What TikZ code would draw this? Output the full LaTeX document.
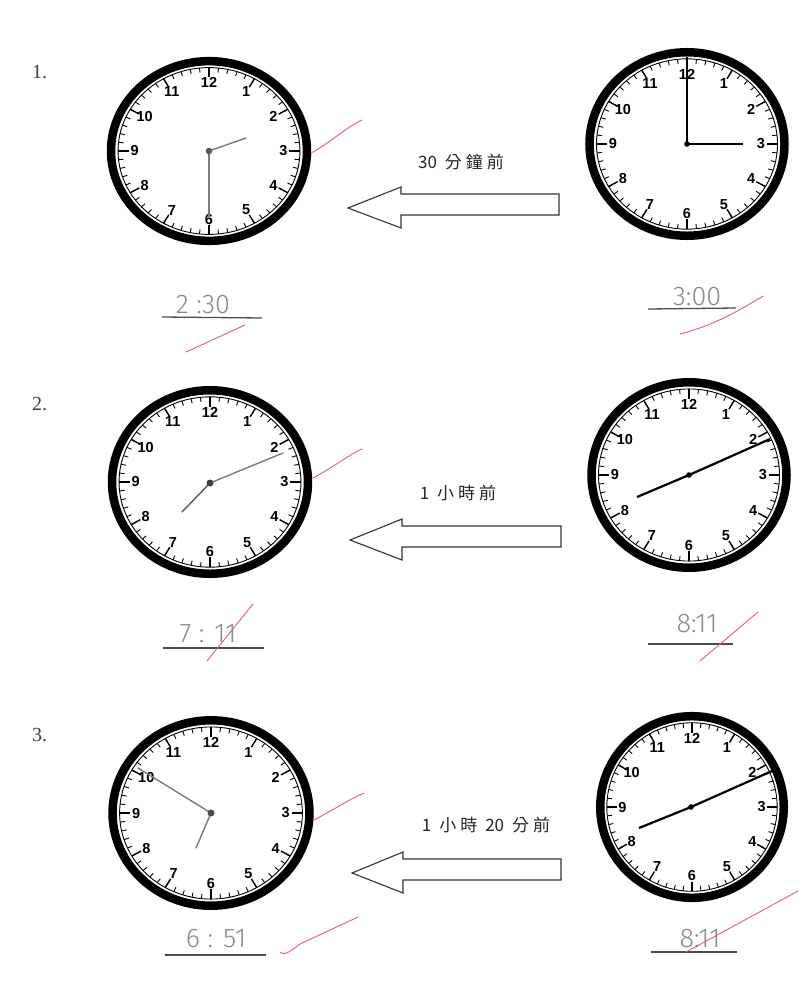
\documentclass[tikz,border=0pt]{standalone}
\usepackage{fontspec}
\setmainfont{Liberation Serif}
\newfontfamily\numfont{Liberation Sans}
\newfontfamily\cjk{Noto Sans CJK TC}
\newfontfamily\hand{Fira Sans Light}
\definecolor{handgray}{HTML}{7A7A7A}
\definecolor{handtext}{HTML}{8A8A8A}
\definecolor{redink}{HTML}{E0607A}
\tikzset{
 ring/.style={line width=8.5pt, draw=black},
 rim/.style={line width=0.9pt, draw=black},
 minortick/.style={line width=0.9pt},
 majortick/.style={line width=1.4pt},
 num/.style={font=\numfont\bfseries\fontsize{14.5}{14.5}\selectfont, inner sep=0pt},
 ghand/.style={line width=1.4pt, draw=handgray, line cap=round},
 bhand/.style={line width=2.2pt, draw=black},
 bigarrow/.style={line width=1.1pt, draw=black!80, fill=white, line join=miter},
 cjklabel/.style={font=\cjk\fontsize{17}{17}\selectfont, text=black!85, inner sep=0pt},
 answer/.style={font=\hand\fontsize{27}{27}\selectfont, text=handtext, inner sep=0pt},
 uline/.style={line width=1.3pt, draw=black!70},
 redmark/.style={line width=0.9pt, draw=redink, line cap=round},
 qnum/.style={font=\fontsize{20}{20}\selectfont, text=black!75, anchor=west, inner sep=0pt}
}
\newcommand{\clockface}[4]{%
 \begin{scope}[shift={(#1,#2)},xscale=#3/102,yscale=#4/102]
  \draw[ring] (0,0) circle (97.5);
  \draw[rim] (0,0) circle (90.5);
  \foreach \k in {0,...,59}{\draw[minortick] (\k*6:90.5) -- (\k*6:85.5);}
  \foreach \k in {0,...,11}{\draw[majortick] (\k*30:90.5) -- (\k*30:80);}
  \foreach \n in {1,...,12}{\node[num] at (\n*30-90:74) {\n};}
 \end{scope}}
\begin{document}
\begin{tikzpicture}[x=1pt,y=-1pt]
\useasboundingbox (0,0) rectangle (804,985);
\fill[white] (0,0) rectangle (804,985);

% question numbers
\node[qnum] (q1) at (32,72) {1.};
\node[qnum] (q2) at (32,404) {2.};
\node[qnum] (q3) at (32,735) {3.};

% clock faces
\clockface{209}{151}{102.5}{94}
\clockface{687}{144}{102}{96}
\clockface{210}{482}{102.5}{96}
\clockface{689}{475}{102}{97}
\clockface{211}{813}{103}{97}
\clockface{692}{807}{96}{95}

% hands
\draw[ghand] (209,151) -- (209,217);
\draw[ghand] (209,151) -- (246,138);
\fill[black!65] (209,151) circle (3.3);

\draw[bhand] (687,144) -- (687,57);
\draw[bhand] (687,144) -- (743,144);
\fill[black] (687,144) circle (2.8);

\draw[ghand] (210,483) -- (283,453);
\draw[ghand,draw=black!65] (210,483) -- (182,512);
\fill[black!75] (210,483) circle (3.5);

\draw[bhand] (689,475) -- (770,439);
\draw[bhand] (689,475) -- (637,497);
\fill[black] (689,475) circle (2.8);

\draw[ghand] (211,813) -- (138,768);
\draw[ghand] (211,813) -- (196,848);
\fill[black!70] (211,813) circle (3.5);

\draw[bhand] (691,807) -- (772,771);
\draw[bhand] (691,807) -- (639,828);
\fill[black] (691,807) circle (2.8);

% arrows
\draw[bigarrow] (559,194) -- (401,194) -- (401,187) -- (348,208) -- (401,228) -- (401,215) -- (559,215) -- cycle;
\draw[bigarrow] (561,526) -- (402,526) -- (402,519) -- (350,540) -- (402,560) -- (402,547) -- (561,547) -- cycle;
\draw[bigarrow] (561,859) -- (403,859) -- (403,852) -- (352,873) -- (403,893) -- (403,880) -- (561,880) -- cycle;

% labels
\node[cjklabel] (t1) at (461,162) {30\hspace{8pt}分\hspace{4pt}鐘\hspace{4pt}前};
\node[cjklabel] (t2) at (458,493) {1\hspace{8pt}小\hspace{4pt}時\hspace{4pt}前};
\node[cjklabel] (t3) at (486,825) {1\hspace{8pt}小\hspace{4pt}時\hspace{8pt}20\hspace{8pt}分\hspace{4pt}前};

% answers
\node[answer] (a1) at (203,305) {2 :30};
\draw[uline] (162,317) -- (262,318);
\node[answer] (a2) at (697,297) {3:00};
\draw[uline] (648,309) -- (736,308);
\node[answer] (a3) at (208,634) {7 : 11};
\draw[uline] (163,648) -- (264,648);
\node[answer] (a4) at (697,624) {8:11};
\draw[uline] (648,644) -- (733,644);
\node[answer] (a5) at (216,939) {6 : 51};
\draw[uline] (165,955) -- (266,955);
\node[answer] (a6) at (700,939) {8:11};
\draw[uline] (651,952) -- (737,952);

% red marks
\draw[redmark] (311,153) .. controls (330,143) and (345,128) .. (362,120);
\draw[redmark] (313,478) .. controls (332,468) and (347,456) .. (362,449);
\draw[redmark] (314,820) .. controls (333,810) and (348,800) .. (364,793);
\draw[redmark] (186,352) -- (245,325);
\draw[redmark] (680,334) .. controls (715,325) and (740,310) .. (763,296);
\draw[redmark] (207,661) -- (253,604);
\draw[redmark] (700,661) -- (758,612);
\draw[redmark] (280,952) .. controls (284,956) and (288,953) .. (300,944) -- (358,917);
\draw[redmark] (686,952) -- (798,891);
\end{tikzpicture}
\end{document}
